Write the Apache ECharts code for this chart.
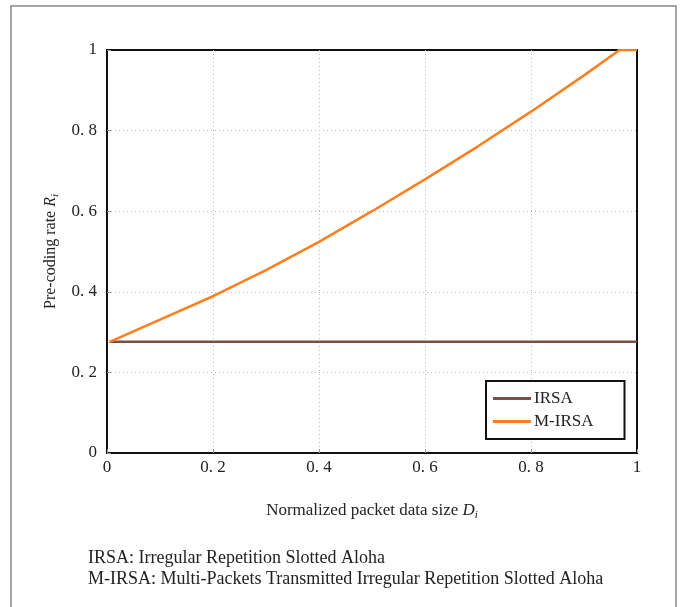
<!DOCTYPE html>
<html>
<head>
<meta charset="utf-8">
<script src="https://cdn.jsdelivr.net/npm/echarts@6/dist/echarts.min.js"></script>
<style>
  html, body { margin: 0; padding: 0; background: #fff; }
  #chart { width: 685px; height: 607px; }
</style>
</head>
<body>
<div id="chart"></div>
<script>
// 横轴：归一化数据包大小
const sizeD = [0.005, 0.1, 0.2, 0.3, 0.4, 0.5, 0.6, 0.7, 0.8, 0.9, 0.967, 1.0];
// 预编码率
const irsaRate = [0.276, 0.276, 0.276, 0.276, 0.276, 0.276, 0.276, 0.276, 0.276, 0.276, 0.276, 0.276];
const mirsaRate = [0.276, 0.331, 0.389, 0.454, 0.524, 0.600, 0.679, 0.761, 0.847, 0.937, 1.0, 1.0];
const xTicks = { 0: '0', 0.2: '0. 2', 0.4: '0. 4', 0.6: '0. 6', 0.8: '0. 8', 1: '1' };
const yTicks = { 0: '0', 0.2: '0. 2', 0.4: '0. 4', 0.6: '0. 6', 0.8: '0. 8', 1: '1' };
const notes = [
  'IRSA: Irregular Repetition Slotted Aloha',
  'M-IRSA: Multi-Packets Transmitted Irregular Repetition Slotted Aloha'
];

const serif = '"Liberation Serif", "DejaVu Serif", serif';
const pairs = (ys) => sizeD.map((x, i) => [x, ys[i]]);

const myChart = echarts.init(document.getElementById('chart'));

const option = {
  backgroundColor: '#fff',
  animation: false,
  textStyle: { fontFamily: serif },
  grid: {
    left: 107,
    top: 50,
    right: 48,
    bottom: 154,
    show: true,
    borderColor: '#111',
    borderWidth: 2
  },
  legend: {
    left: 486,
    top: 381,
    orient: 'vertical',
    backgroundColor: '#fff',
    borderColor: '#111',
    borderWidth: 2,
    borderRadius: 0,
    padding: [9, 31, 9, 7],
    itemGap: 6,
    itemWidth: 38,
    itemHeight: 3,
    icon: 'rect',
    textStyle: { fontFamily: serif, fontSize: 17, color: '#222', padding: [0, 0, 0, -2] },
    data: ['IRSA', 'M-IRSA']
  },
  xAxis: {
    type: 'value',
    min: 0,
    max: 1,
    interval: 0.2,
    name: '{t|Normalized packet data size }{v|D}{s|i}',
    nameLocation: 'middle',
    nameGap: 48,
    nameTextStyle: {
      rich: {
        t: { fontFamily: serif, fontSize: 17, color: '#222' },
        v: { fontFamily: serif, fontSize: 17, fontStyle: 'italic', color: '#222' },
        s: { fontFamily: serif, fontSize: 11, fontStyle: 'italic', color: '#222', padding: [9, 0, 0, 0] }
      }
    },
    axisLine: { lineStyle: { color: '#111', width: 2 } },
    axisTick: { inside: true, length: 4, lineStyle: { color: '#999' } },
    axisLabel: {
      fontFamily: serif, fontSize: 17, color: '#222', margin: 6,
      formatter: (v) => xTicks[Math.round(v * 10) / 10] ?? ''
    },
    splitLine: {
      show: true, showMinLine: false, showMaxLine: false,
      lineStyle: { color: '#bbb', type: [1, 3], width: 1 }
    }
  },
  yAxis: {
    type: 'value',
    min: 0,
    max: 1,
    interval: 0.2,
    name: '{t|Pre-coding rate }{v|R}{s|i}',
    nameLocation: 'middle',
    nameGap: 46,
    nameRotate: 90,
    nameTextStyle: {
      rich: {
        t: { fontFamily: serif, fontSize: 16, color: '#222' },
        v: { fontFamily: serif, fontSize: 16, fontStyle: 'italic', color: '#222' },
        s: { fontFamily: serif, fontSize: 11, fontStyle: 'italic', color: '#222', padding: [9, 0, 0, 0] }
      }
    },
    axisLine: { lineStyle: { color: '#111', width: 2 } },
    axisTick: { inside: true, length: 4, lineStyle: { color: '#999' } },
    axisLabel: {
      fontFamily: serif, fontSize: 17, color: '#222', margin: 10,
      formatter: (v) => yTicks[Math.round(v * 10) / 10] ?? ''
    },
    splitLine: {
      show: true, showMinLine: false, showMaxLine: false,
      lineStyle: { color: '#bbb', type: [1, 3], width: 1 }
    }
  },
  series: [
    {
      name: 'IRSA',
      type: 'line',
      symbol: 'none',
      data: pairs(irsaRate),
      lineStyle: { color: '#7b4e48', width: 2.5 },
      itemStyle: { color: '#7b4e48' },
      z: 3
    },
    {
      name: 'M-IRSA',
      type: 'line',
      symbol: 'none',
      data: pairs(mirsaRate),
      lineStyle: { color: '#ff7f1f', width: 2.5 },
      itemStyle: { color: '#ff7f1f' },
      z: 4
    }
  ],
  graphic: [
    {
      type: 'rect',
      shape: { x: 11, y: 6, width: 665, height: 620 },
      style: { fill: 'none', stroke: '#888', lineWidth: 1.5 },
      silent: true
    },
    {
      type: 'text',
      left: 88,
      top: 548,
      style: {
        text: notes.join('\n'),
        font: '18px ' + serif,
        fill: '#222',
        lineHeight: 21
      }
    }
  ]
};

option && myChart.setOption(option);
</script>
</body>
</html>
